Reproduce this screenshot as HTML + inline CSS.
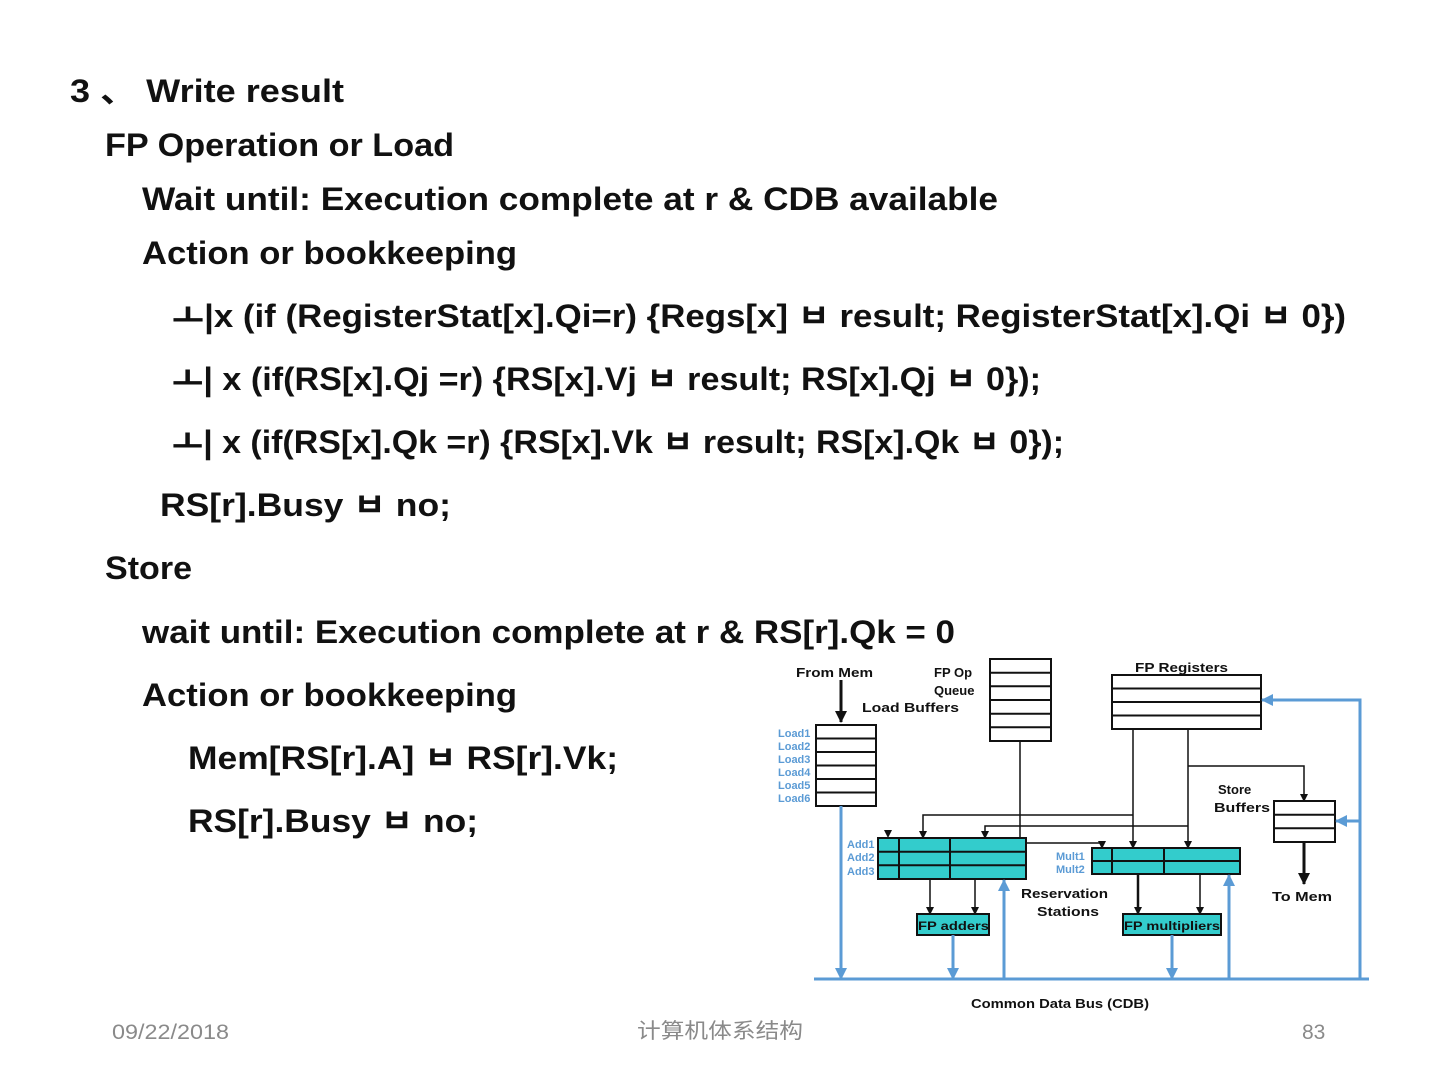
<!DOCTYPE html>
<html><head><meta charset="utf-8"><style>
html,body{margin:0;padding:0;background:#fff;}
svg{display:block}
.t{font-family:"Liberation Sans","Noto Sans CJK SC",sans-serif;font-weight:bold;font-size:32px;fill:#111}
.s{font-family:"Liberation Sans",sans-serif;font-weight:bold;font-size:13px;fill:#111}
.b{font-family:"Liberation Sans",sans-serif;font-weight:bold;font-size:11px;fill:#5b9bd5}
.f{font-family:"Liberation Sans","Noto Sans CJK SC",sans-serif;font-size:21px;fill:#8a8a8a}
</style></head><body>
<svg width="1440" height="1080" viewBox="0 0 1440 1080" xmlns="http://www.w3.org/2000/svg">
<defs>
<marker id="ak" markerWidth="8" markerHeight="8" refX="7" refY="4" orient="auto" markerUnits="userSpaceOnUse"><path d="M0,0 L8,4 L0,8 z" fill="#111"/></marker>
<marker id="akb" markerWidth="12" markerHeight="12" refX="11" refY="6" orient="auto" markerUnits="userSpaceOnUse"><path d="M0,0 L12,6 L0,12 z" fill="#111"/></marker>
<marker id="ab" markerWidth="12" markerHeight="12" refX="11" refY="6" orient="auto" markerUnits="userSpaceOnUse"><path d="M0,0 L12,6 L0,12 z" fill="#5b9bd5"/></marker>
</defs>
<g class="t">
<text x="70" y="102" textLength="274" lengthAdjust="spacingAndGlyphs">3 、 Write result</text>
<text x="105" y="156" textLength="349" lengthAdjust="spacingAndGlyphs">FP Operation or Load</text>
<text x="142" y="210" textLength="856" lengthAdjust="spacingAndGlyphs">Wait until: Execution complete at r  &amp; CDB available</text>
<text x="142" y="264" textLength="375" lengthAdjust="spacingAndGlyphs">Action or bookkeeping</text>
<text x="172" y="327" textLength="1174" lengthAdjust="spacingAndGlyphs">ㅗ|x (if (RegisterStat[x].Qi=r) {Regs[x] ㅂ  result; RegisterStat[x].Qi ㅂ  0})</text>
<text x="172" y="390" textLength="869" lengthAdjust="spacingAndGlyphs">ㅗ| x (if(RS[x].Qj =r) {RS[x].Vj ㅂ result; RS[x].Qj ㅂ 0});</text>
<text x="172" y="453" textLength="892" lengthAdjust="spacingAndGlyphs">ㅗ| x (if(RS[x].Qk =r) {RS[x].Vk ㅂ result; RS[x].Qk ㅂ 0});</text>
<text x="160" y="516" textLength="291" lengthAdjust="spacingAndGlyphs">RS[r].Busy  ㅂ  no;</text>
<text x="105" y="579" textLength="87" lengthAdjust="spacingAndGlyphs">Store</text>
<text x="142" y="643" textLength="813" lengthAdjust="spacingAndGlyphs">wait until: Execution complete at r &amp; RS[r].Qk = 0</text>
<text x="142" y="706" textLength="375" lengthAdjust="spacingAndGlyphs">Action or bookkeeping</text>
<text x="188" y="769" textLength="430" lengthAdjust="spacingAndGlyphs">Mem[RS[r].A] ㅂ  RS[r].Vk;</text>
<text x="188" y="832" textLength="290" lengthAdjust="spacingAndGlyphs">RS[r].Busy  ㅂ  no;</text>
</g>
<g stroke="#111" fill="none" stroke-width="1.5">
<line x1="841" y1="680" x2="841" y2="722" stroke-width="3" marker-end="url(#akb)"/>
<polyline points="1020,741 1020,843"/>
<polyline points="888,843 1102,843"/>
<line x1="1102" y1="843" x2="1102" y2="848" marker-end="url(#ak)"/>
<polyline points="1133,729 1133,848" marker-end="url(#ak)"/>
<polyline points="1133,815 923,815 923,838" marker-end="url(#ak)"/>
<polyline points="1188,729 1188,848" marker-end="url(#ak)"/>
<polyline points="1188,826 985,826 985,838" marker-end="url(#ak)"/>
<polyline points="1188,766 1304,766 1304,801" marker-end="url(#ak)"/>
<line x1="930" y1="879" x2="930" y2="914" marker-end="url(#ak)"/>
<line x1="975" y1="879" x2="975" y2="914" marker-end="url(#ak)"/>
<line x1="1138" y1="874" x2="1138" y2="914" stroke-width="2.5" marker-end="url(#ak)"/>
<line x1="1200" y1="874" x2="1200" y2="914" marker-end="url(#ak)"/>
<line x1="1304" y1="842" x2="1304" y2="884" stroke-width="3" marker-end="url(#akb)"/>
</g>
<path d="M884,830 L892,830 L888,838 z" fill="#111"/>
<g stroke="#111" stroke-width="2" fill="#fff">
<rect x="816" y="725" width="60" height="81"/>
<rect x="990" y="659" width="61" height="82"/>
<rect x="1112" y="675" width="149" height="54"/>
<rect x="1274" y="801" width="61" height="41"/>
</g>
<g stroke="#111" stroke-width="2">
<line x1="816" y1="738.5" x2="876" y2="738.5"/><line x1="816" y1="752" x2="876" y2="752"/><line x1="816" y1="765.5" x2="876" y2="765.5"/><line x1="816" y1="779" x2="876" y2="779"/><line x1="816" y1="792.5" x2="876" y2="792.5"/>
<line x1="990" y1="672.7" x2="1051" y2="672.7"/><line x1="990" y1="686.3" x2="1051" y2="686.3"/><line x1="990" y1="700" x2="1051" y2="700"/><line x1="990" y1="713.7" x2="1051" y2="713.7"/><line x1="990" y1="727.3" x2="1051" y2="727.3"/>
<line x1="1112" y1="688.5" x2="1261" y2="688.5"/><line x1="1112" y1="702" x2="1261" y2="702"/><line x1="1112" y1="715.5" x2="1261" y2="715.5"/>
<line x1="1274" y1="814.7" x2="1335" y2="814.7"/><line x1="1274" y1="828.3" x2="1335" y2="828.3"/>
</g>
<g stroke="#111" stroke-width="2" fill="#33cccc">
<rect x="878" y="838" width="148" height="41"/>
<rect x="1092" y="848" width="148" height="26"/>
<rect x="917" y="914" width="72" height="21"/>
<rect x="1123" y="914" width="98" height="21"/>
<line x1="878" y1="851.7" x2="1026" y2="851.7"/><line x1="878" y1="865.3" x2="1026" y2="865.3"/>
<line x1="899" y1="838" x2="899" y2="879"/><line x1="950" y1="838" x2="950" y2="879"/>
<line x1="1092" y1="861" x2="1240" y2="861"/>
<line x1="1112" y1="848" x2="1112" y2="874"/><line x1="1164" y1="848" x2="1164" y2="874"/>
</g>
<g stroke="#5b9bd5" stroke-width="3" fill="none">
<line x1="814" y1="979" x2="1369" y2="979"/>
<line x1="841" y1="806" x2="841" y2="979" marker-end="url(#ab)"/>
<line x1="953" y1="935" x2="953" y2="979" marker-end="url(#ab)"/>
<line x1="1004" y1="979" x2="1004" y2="880" marker-end="url(#ab)"/>
<line x1="1172" y1="935" x2="1172" y2="979" marker-end="url(#ab)"/>
<line x1="1229" y1="979" x2="1229" y2="875" marker-end="url(#ab)"/>
<polyline points="1360,979 1360,700 1262,700" marker-end="url(#ab)"/>
<line x1="1360" y1="821" x2="1336" y2="821" marker-end="url(#ab)"/>
</g>
<g class="s">
<text x="796" y="677" textLength="77" lengthAdjust="spacingAndGlyphs">From Mem</text>
<text x="934" y="677">FP Op</text>
<text x="934" y="695">Queue</text>
<text x="862" y="712" textLength="97" lengthAdjust="spacingAndGlyphs">Load Buffers</text>
<text x="1135" y="672" textLength="93" lengthAdjust="spacingAndGlyphs">FP Registers</text>
<text x="1218" y="794">Store</text>
<text x="1214" y="812" textLength="56" lengthAdjust="spacingAndGlyphs">Buffers</text>
<text x="1272" y="901" textLength="60" lengthAdjust="spacingAndGlyphs">To Mem</text>
<text x="1021" y="898" textLength="87" lengthAdjust="spacingAndGlyphs">Reservation</text>
<text x="1037" y="916" textLength="62" lengthAdjust="spacingAndGlyphs">Stations</text>
<text x="918" y="930" font-size="12" textLength="71" lengthAdjust="spacingAndGlyphs">FP adders</text>
<text x="1124" y="930" font-size="12" textLength="96" lengthAdjust="spacingAndGlyphs">FP multipliers</text>
<text x="971" y="1008" textLength="178" lengthAdjust="spacingAndGlyphs">Common Data Bus (CDB)</text>
</g>
<g class="b">
<text x="778" y="737">Load1</text><text x="778" y="750">Load2</text><text x="778" y="763">Load3</text><text x="778" y="776">Load4</text><text x="778" y="789">Load5</text><text x="778" y="802">Load6</text>
<text x="847" y="848">Add1</text><text x="847" y="861">Add2</text><text x="847" y="875">Add3</text>
<text x="1056" y="860">Mult1</text><text x="1056" y="873">Mult2</text>
</g>
<text class="f" x="112" y="1039" textLength="117" lengthAdjust="spacingAndGlyphs">09/22/2018</text>
<text class="f" x="637" y="1038" textLength="166" lengthAdjust="spacingAndGlyphs">计算机体系结构</text>
<text class="f" x="1302" y="1039">83</text>
</svg>
</body></html>
